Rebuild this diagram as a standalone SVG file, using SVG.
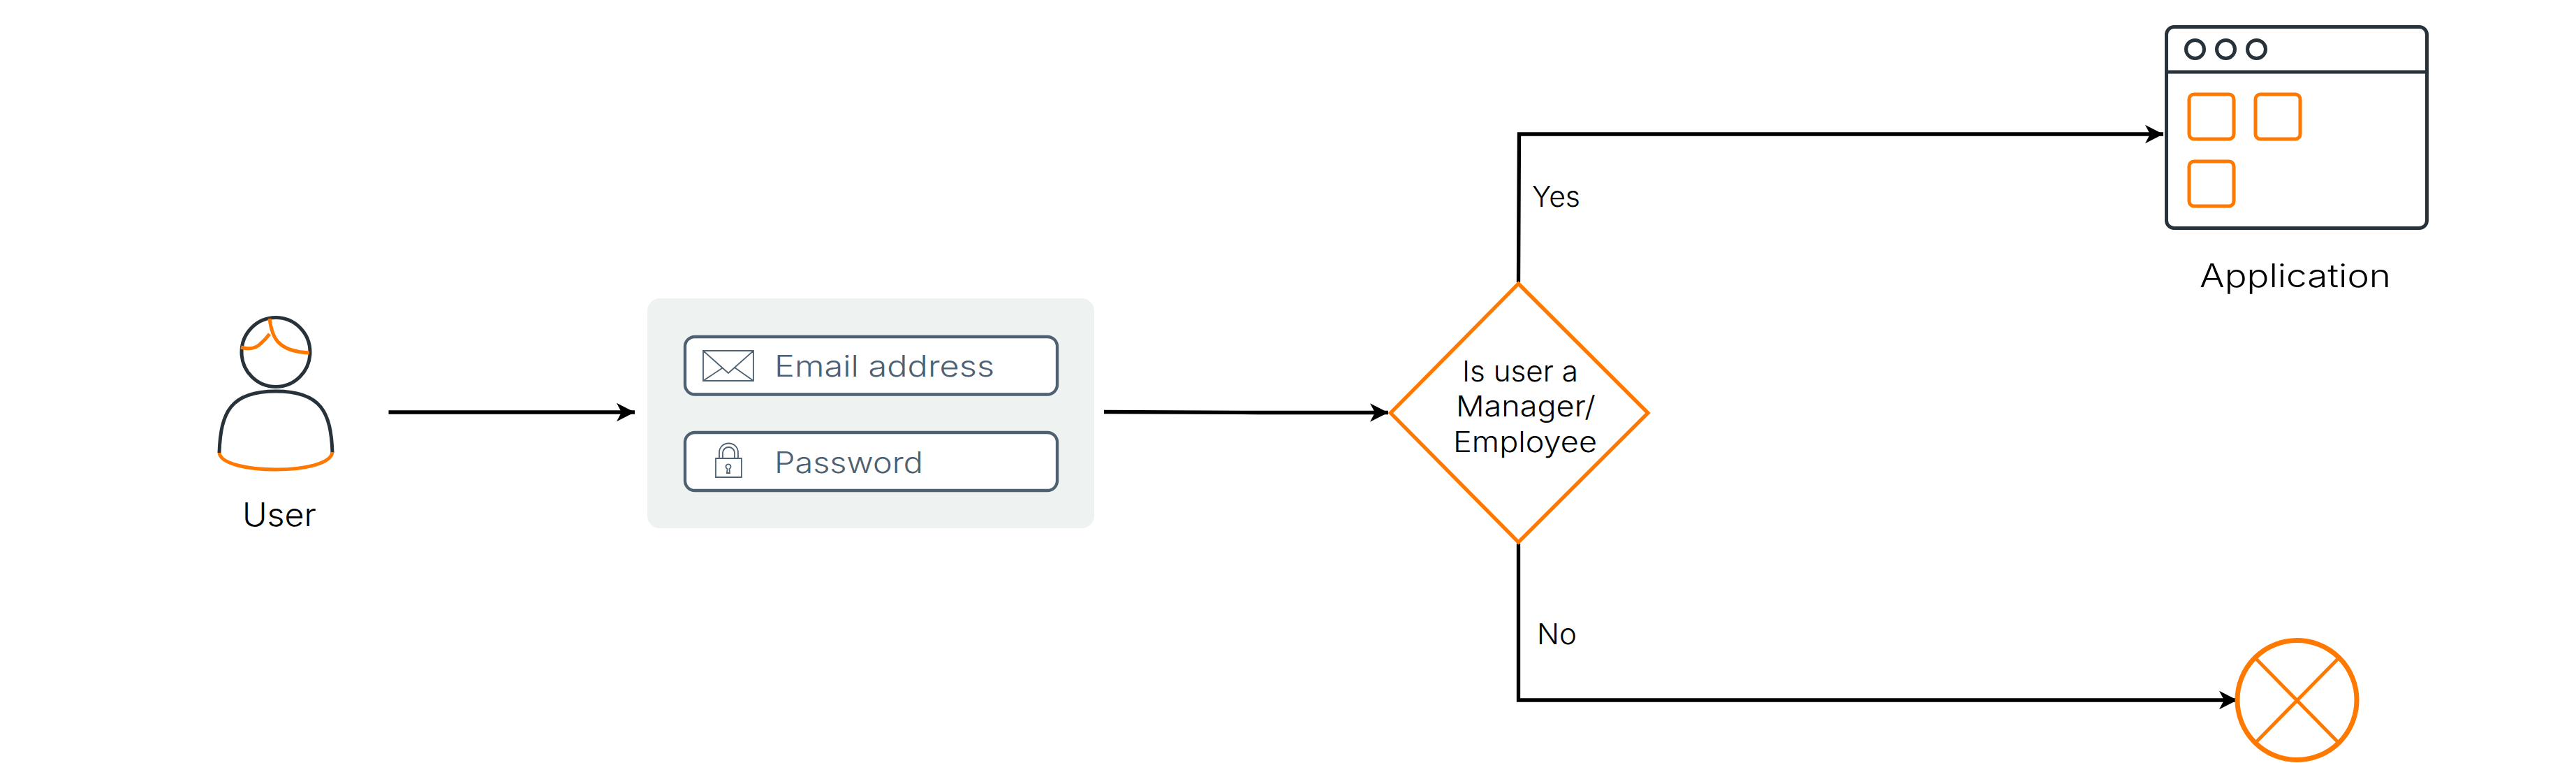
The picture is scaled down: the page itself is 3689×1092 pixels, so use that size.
<svg xmlns="http://www.w3.org/2000/svg" width="3689" height="1092" viewBox="0 0 3689 1092">
<style>
text{font-family:"Inter","Liberation Sans",sans-serif;font-size:41px;font-weight:350;fill:#000}
.ink{fill:none;stroke:#27323a;stroke-width:5}
.org{fill:none;stroke:#ff7800;stroke-width:5}
.conn{fill:none;stroke:#000;stroke-width:5.3;marker-end:url(#arr)}
.field{fill:#fff;stroke:#4d6172;stroke-width:4.300}
.icon{fill:none;stroke:#4d6172;stroke-width:1.8}
.big{font-size:46px}
.ft{fill:#4d6172;font-weight:300;font-size:42px}
</style>
<defs>
<marker id="arr" markerUnits="userSpaceOnUse" markerWidth="28" markerHeight="28" refX="26" refY="14" orient="auto">
<path d="M0 .7L26 14L0 27.3L7 14Z" fill="#000"/>
</marker>
</defs>
<rect width="3689" height="1092" fill="#fff"/>
<g id="connectors">
<path class="conn" d="M556.500 590H909"/>
<path class="conn" d="M1581 589.500L1800 590.500L1988 590.500"/>
<path class="conn" d="M2174.500 404L2175.500 192H3098"/>
<path class="conn" d="M2174.500 778V1002H3204"/>
</g>
<g id="user">
<ellipse class="ink" cx="395" cy="504" rx="49" ry="49.500"/>
<path class="ink" d="M314 648C316 590 330 560 395 560C460 560 474 590 476 648"/>
<path class="org" d="M314 648C316 664 355 672 395 672C435 672 474 664 476 647"/>
<path class="org" d="M386 456C389 480 395 503 443 505"/>
<path class="org" d="M345 497C355 500 365 500 373 492C380 486 383 482 386 478"/>
<text class="big" x="347" y="753" textLength="106" lengthAdjust="spacingAndGlyphs">User</text>
</g>
<g id="login">
<rect x="927" y="427" width="640" height="329" rx="18" fill="#eef2f1"/>
<g id="email-field">
<rect class="field" x="981" y="482" width="533" height="82.500" rx="14"/>
<path class="icon" d="M1007 502H1079V545H1007ZM1007 502L1043 534L1079 502M1007 545L1034 527M1079 545L1052 526"/>
<text class="ft" x="1109" y="539" textLength="315" lengthAdjust="spacingAndGlyphs">Email address</text>
</g>
<g id="password-field">
<rect class="field" x="981" y="619" width="533" height="83" rx="14"/>
<path class="icon" d="M1025 656H1062V683H1025ZM1030 656V648C1030 630 1057 630 1057 648V656M1035 656V649C1035 637 1052 637 1052 649V656M1041 677H1045L1044.500 671A3.500 3.500 0 1 0 1041.500 671Z"/>
<text class="ft" x="1109" y="677" textLength="213" lengthAdjust="spacingAndGlyphs">Password</text>
</g>
</g>
<g id="decision">
<polygon points="2174.500,406 2360,591 2174.500,776 1991.500,591" fill="#fff" stroke="#ff7800" stroke-width="5.300"/>
<text x="2094" y="546" textLength="166" lengthAdjust="spacingAndGlyphs">Is user a</text>
<text x="2085" y="596" textLength="200" lengthAdjust="spacingAndGlyphs">Manager/</text>
<text x="2081" y="647" textLength="206" lengthAdjust="spacingAndGlyphs">Employee</text>
</g>
<text id="label-yes" x="2194" y="296" textLength="69" lengthAdjust="spacingAndGlyphs">Yes</text>
<text id="label-no" x="2201" y="922" textLength="57" lengthAdjust="spacingAndGlyphs">No</text>
<g id="application">
<rect class="ink" x="3102.500" y="38.500" width="373" height="288" rx="11"/>
<path class="ink" d="M3102.500 103H3475.500"/>
<circle class="ink" cx="3143.500" cy="70.500" r="13"/>
<circle class="ink" cx="3187.500" cy="70.500" r="13"/>
<circle class="ink" cx="3231.500" cy="70.500" r="13"/>
<rect class="org" x="3135" y="135" width="64" height="64" rx="7"/>
<rect class="org" x="3230" y="135" width="64" height="64" rx="7"/>
<rect class="org" x="3135" y="231" width="64" height="64" rx="7"/>
<text class="big" x="3150" y="411" textLength="274" lengthAdjust="spacingAndGlyphs">Application</text>
</g>
<g id="denied">
<circle class="org" cx="3289.500" cy="1002" r="85.500" style="stroke-width:7"/>
<path class="org" d="M3230 942L3349 1063M3349 942L3230 1063"/>
</g>
</svg>
